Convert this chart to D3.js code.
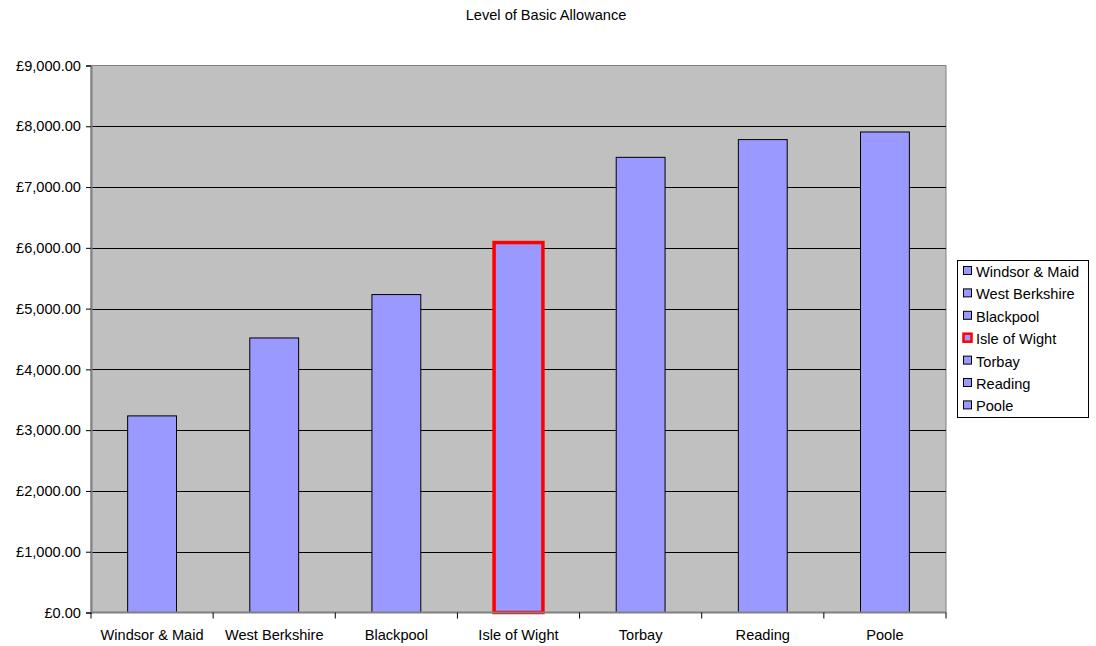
<!DOCTYPE html>
<html>
<head>
<meta charset="utf-8">
<script src="https://cdn.jsdelivr.net/npm/d3@7"></script>
<style>
  html, body { margin: 0; padding: 0; background: #fff; }
  svg { display: block; font-family: "Liberation Sans", Arial, sans-serif; }
  svg text { font-family: "Liberation Sans", Arial, sans-serif; }
</style>
</head>
<body>
<svg id="chart" width="1096" height="646"></svg>
<script>
/* ── Data ─────────────────────────────────────────── */
const councils   = ["Windsor & Maid", "West Berkshire", "Blackpool", "Isle of Wight", "Torbay", "Reading", "Poole"];
const allowances = [3235, 4517, 5231, 6087, 7489, 7781, 7906];
const yTicks     = [0, 1000, 2000, 3000, 4000, 5000, 6000, 7000, 8000, 9000];
const highlight  = "Isle of Wight";

const rows = councils.map((name, i) => ({ name, value: allowances[i] }));

/* ── Layout ───────────────────────────────────────── */
const svg = d3.select("#chart");
const plot = { left: 91, right: 946, top: 65.5, bottom: 612.5 };
const fontSize = 14.6;

const x = d3.scaleBand()
    .domain(councils)
    .range([plot.left, plot.right])
    .paddingInner(0.6)
    .paddingOuter(0.3);

const y = d3.scaleLinear()
    .domain([0, 9000])
    .range([plot.bottom, plot.top]);

const money = v => "£" + d3.format(",.2f")(v);

/* ── Title ────────────────────────────────────────── */
svg.append("text")
    .attr("x", 546).attr("y", 20)
    .attr("text-anchor", "middle")
    .style("font-size", fontSize + "px")
    .attr("fill", "#000")
    .text("Level of Basic Allowance");

/* ── Plot area + gridlines ────────────────────────── */
svg.append("rect")
    .attr("x", plot.left).attr("y", plot.top)
    .attr("width", plot.right - plot.left)
    .attr("height", plot.bottom - plot.top)
    .attr("fill", "#c0c0c0")
    .attr("stroke", "#808080")
    .attr("stroke-width", 1);

svg.append("g").selectAll("line")
    .data(yTicks.filter(t => t > 0 && t < 9000))
    .join("line")
    .attr("x1", plot.left).attr("x2", plot.right)
    .attr("y1", d => Math.round(y(d)) + 0.5)
    .attr("y2", d => Math.round(y(d)) + 0.5)
    .attr("stroke", "#000")
    .attr("stroke-width", 1);

/* ── Bars ─────────────────────────────────────────── */
svg.append("g").selectAll("rect")
    .data(rows)
    .join("rect")
    .attr("x", d => x(d.name))
    .attr("y", d => y(d.value))
    .attr("width", x.bandwidth())
    .attr("height", d => y(0) - y(d.value))
    .attr("fill", "#9999ff")
    .attr("stroke", d => d.name === highlight ? "#ff0000" : "#000")
    .attr("stroke-width", d => d.name === highlight ? 3.5 : 1);

/* ── Axes ─────────────────────────────────────────── */
const yAxis = svg.append("g")
    .attr("transform", `translate(${plot.left},0)`)
    .call(d3.axisLeft(y).tickValues(yTicks).tickFormat(money).tickSize(5).tickPadding(5));
yAxis.attr("font-size", null).attr("font-family", null);
yAxis.select(".domain").attr("stroke", "#808080").attr("stroke-width", 2);
yAxis.selectAll(".tick line").attr("stroke", "#000");
yAxis.selectAll("text")
    .style("font-size", fontSize + "px")
    .attr("fill", "#000");

// x axis: category labels centred, ticks between categories
const xAxis = svg.append("g");
xAxis.append("line")
    .attr("x1", plot.left).attr("x2", plot.right)
    .attr("y1", plot.bottom).attr("y2", plot.bottom)
    .attr("stroke", "#808080").attr("stroke-width", 2);
xAxis.selectAll(".sep")
    .data(d3.range(councils.length + 1))
    .join("line")
    .attr("class", "sep")
    .attr("x1", i => plot.left + i * (plot.right - plot.left) / councils.length)
    .attr("x2", i => plot.left + i * (plot.right - plot.left) / councils.length)
    .attr("y1", plot.bottom).attr("y2", plot.bottom + 6)
    .attr("stroke", "#000");
xAxis.selectAll("text")
    .data(councils)
    .join("text")
    .attr("x", d => x(d) + x.bandwidth() / 2)
    .attr("y", 640)
    .attr("text-anchor", "middle")
    .style("font-size", fontSize + "px")
    .attr("fill", "#000")
    .text(d => d);

/* ── Legend ───────────────────────────────────────── */
const legend = svg.append("g");
legend.append("rect")
    .attr("x", 957.5).attr("y", 260.5)
    .attr("width", 131).attr("height", 157)
    .attr("fill", "#fff").attr("stroke", "#000");

const item = legend.selectAll(".item")
    .data(rows)
    .join("g")
    .attr("class", "item")
    .attr("transform", (d, i) => `translate(963,${272 + i * 22.4})`);
item.append("rect")
    .attr("x", 0.5)
    .attr("y", -5.5)
    .attr("width", 8).attr("height", 8)
    .attr("fill", "#9999ff")
    .attr("stroke", d => d.name === highlight ? "#ff0000" : "#000")
    .attr("stroke-width", d => d.name === highlight ? 2.5 : 1);
item.append("text")
    .attr("x", 13).attr("y", 5)
    .style("font-size", fontSize + "px")
    .attr("fill", "#000")
    .text(d => d.name);
</script>
</body>
</html>
